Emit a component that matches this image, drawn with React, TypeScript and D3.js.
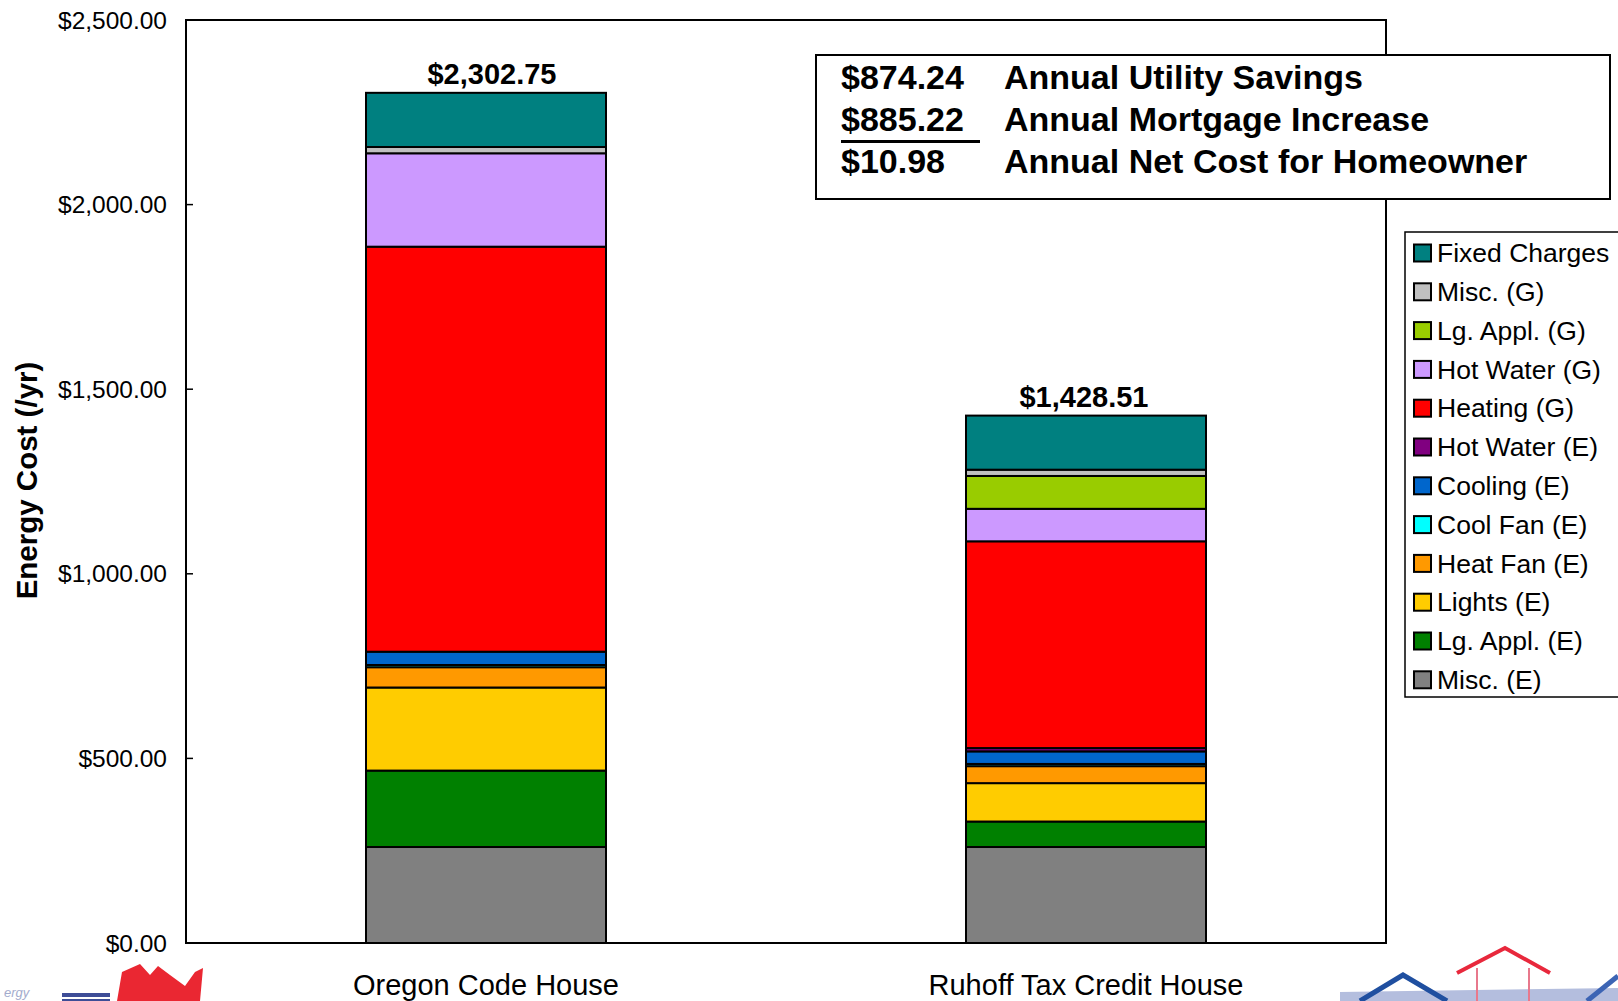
import React from "react";
import * as d3 from "d3";

const categories = ["Oregon Code House", "Ruhoff Tax Credit House"];

// stacking order: bottom -> top
const seriesNames = [
  "Misc. (E)",
  "Lg. Appl. (E)",
  "Lights (E)",
  "Heat Fan (E)",
  "Cool Fan (E)",
  "Cooling (E)",
  "Hot Water (E)",
  "Heating (G)",
  "Hot Water (G)",
  "Lg. Appl. (G)",
  "Misc. (G)",
  "Fixed Charges",
];
const seriesColors = [
  "#808080",
  "#008000",
  "#FFCC00",
  "#FF9900",
  "#00FFFF",
  "#0066CC",
  "#800080",
  "#FF0000",
  "#CC99FF",
  "#99CC00",
  "#C0C0C0",
  "#008080",
];
const oregonValues = [260, 207, 225, 55, 6, 36, 0, 1097, 253, 0, 17, 146.75];
const ruhoffValues = [260, 69, 104, 46, 6, 34, 9, 560, 88, 89, 17, 146.51];

const yTicks = [0, 500, 1000, 1500, 2000, 2500];

const noteAmounts = ["$874.24", "$885.22", "$10.98"];
const noteLabels = [
  "Annual Utility Savings",
  "Annual Mortgage Increase",
  "Annual Net Cost for Homeowner",
];

const W = 1618;
const H = 1001;
const plot = { left: 186, right: 1386, top: 20, bottom: 943 };
const FONT = "Arial, 'Liberation Sans', Helvetica, sans-serif";
const totalLabelShift = [6, -2];

export default function App() {
  const y = d3.scaleLinear().domain([0, 2500]).range([plot.bottom, plot.top]);
  const x = d3
    .scaleBand<string>()
    .domain(categories)
    .range([plot.left, plot.right])
    .paddingInner(0.6)
    .paddingOuter(0.3);

  const table = categories.map((c, i) => {
    const vals = i === 0 ? oregonValues : ruhoffValues;
    const row: any = { category: c };
    seriesNames.forEach((s, j) => (row[s] = vals[j]));
    return row;
  });
  const stacked = d3.stack<any>().keys(seriesNames)(table);
  const totals = table.map((r) => d3.sum(seriesNames, (s) => r[s]));
  const fmt = d3.format("$,.2f");

  const legendTop = 232;
  const legendStep = 38.8;

  return (
    <svg
      width={W}
      height={H}
      style={{ position: "absolute", left: 0, top: 0, display: "block", background: "#fff" }}
      fontFamily={FONT}
    >
      <rect x={0} y={0} width={W} height={H} fill="#ffffff" />

      {/* plot frame */}
      <rect
        x={plot.left}
        y={plot.top}
        width={plot.right - plot.left}
        height={plot.bottom - plot.top}
        fill="#ffffff"
        stroke="#000"
        strokeWidth={2}
      />

      {/* y ticks */}
      {yTicks.map((t) => (
        <g key={t}>
          <line x1={plot.left} x2={plot.left + 7} y1={y(t)} y2={y(t)} stroke="#000" strokeWidth={1.5} />
          <text x={167} y={y(t)} dy="0.35em" textAnchor="end" fontSize={24.5} fill="#000">
            {fmt(t)}
          </text>
        </g>
      ))}

      {/* y title */}
      <text
        transform={`translate(37,${(plot.top + plot.bottom) / 2 - 1}) rotate(-90)`}
        textAnchor="middle"
        fontSize={29.5}
        fontWeight="bold"
        fill="#000"
      >
        Energy Cost (/yr)
      </text>

      {/* bars */}
      {stacked.map((layer, j) => (
        <g key={layer.key} fill={seriesColors[j]}>
          {layer.map((d, i) => (
            <rect
              key={i}
              x={x(categories[i])}
              y={y(d[1])}
              width={x.bandwidth()}
              height={Math.max(0, y(d[0]) - y(d[1]))}
              stroke="#000"
              strokeWidth={2}
            />
          ))}
        </g>
      ))}

      {/* totals */}
      {categories.map((c, i) => (
        <text
          key={c}
          x={(x(c) as number) + x.bandwidth() / 2 + totalLabelShift[i]}
          y={y(totals[i]) - 9}
          textAnchor="middle"
          fontSize={29}
          fontWeight="bold"
          fill="#000"
        >
          {fmt(totals[i])}
        </text>
      ))}

      {/* category labels */}
      {categories.map((c) => (
        <text
          key={c}
          x={(x(c) as number) + x.bandwidth() / 2}
          y={995}
          textAnchor="middle"
          fontSize={29}
          fill="#000"
        >
          {c}
        </text>
      ))}

      {/* annotation box */}
      <rect x={816} y={55} width={794} height={144} fill="#fff" stroke="#000" strokeWidth={2} />
      {noteAmounts.map((a, i) => (
        <g key={a}>
          <text x={841} y={89 + i * 42} fontSize={34} fontWeight="bold" fill="#000">
            {a}
          </text>
          <text x={1004} y={89 + i * 42} fontSize={34} fontWeight="bold" fill="#000">
            {noteLabels[i]}
          </text>
        </g>
      ))}
      <line x1={841} x2={980} y1={141.5} y2={141.5} stroke="#000" strokeWidth={3} />

      {/* legend */}
      <rect x={1405} y={legendTop} width={230} height={465} fill="#fff" stroke="#000" strokeWidth={1.5} />
      {seriesNames
        .map((s, j) => ({ s, c: seriesColors[j] }))
        .reverse()
        .map((d, k) => {
          const cy = legendTop + 21 + k * legendStep;
          return (
            <g key={d.s}>
              <rect x={1414} y={cy - 8.5} width={17} height={17} fill={d.c} stroke="#000" strokeWidth={2} />
              <text x={1437} y={cy} dy="0.35em" fontSize={26.5} fill="#000">
                {d.s}
              </text>
            </g>
          );
        })}

      {/* decorative logos (partial, bottom corners) */}
      <g opacity={0.9}>
        <text x={4} y={997} fontSize={13} fill="#9aa3c8" fontStyle="italic">ergy</text>
        <rect x={62} y={993} width={48} height={4} fill="#2a3a8c" />
        <rect x={62} y={999} width={48} height={4} fill="#2a3a8c" />
        <path d="M117,1001 L122,972 L140,964 L150,975 L158,966 L170,975 L185,986 L195,972 L203,968 L200,1001 Z" fill="#e8101c" />
      </g>
      <g>
        <path d="M1340,1001 L1340,992 L1618,988 L1618,1001 Z" fill="#b4bede" />
        <path d="M1360,1001 L1403,975 L1447,1001" fill="none" stroke="#1f4fa0" strokeWidth={5} />
        <path d="M1587,1001 L1618,976" fill="none" stroke="#3c64b4" strokeWidth={5} />
        <path d="M1457,973 L1505,948 L1550,973" fill="none" stroke="#e8283c" strokeWidth={4} />
        <line x1={1477} x2={1477} y1={968} y2={1001} stroke="#e8788c" strokeWidth={2} />
        <line x1={1529} x2={1529} y1={968} y2={1001} stroke="#e8788c" strokeWidth={2} />
      </g>
    </svg>
  );
}
